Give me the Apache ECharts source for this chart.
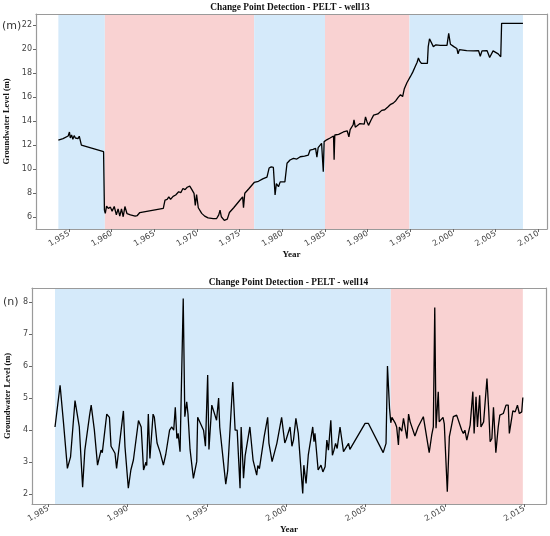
<!DOCTYPE html>
<html>
<head>
<meta charset="utf-8">
<script src="https://cdn.jsdelivr.net/npm/echarts@6/dist/echarts.min.js"></script>
<style>
  html, body { margin: 0; padding: 0; background: #fff; }
  #chart { width: 550px; height: 536px; }
</style>
</head>
<body>
<div id="chart"></div>
<script>
// well13 : niveau de la nappe (m)
const well13Years = [1953.75, 1954.3, 1954.9, 1955.05, 1955.15, 1955.3, 1955.45, 1955.6, 1955.75, 1955.9, 1956.05, 1956.2, 1956.35, 1956.45,
  1959.05, 1959.15, 1959.25, 1959.4, 1959.6, 1959.85, 1960.05, 1960.3, 1960.55, 1960.75, 1960.95, 1961.15, 1961.35, 1961.55, 1961.8,
  1962.2, 1962.4, 1962.75, 1963.0, 1963.3, 1966.05, 1966.25, 1966.5, 1966.7, 1966.9, 1967.2, 1967.5, 1967.65, 1967.85, 1968.1, 1968.35,
  1968.6, 1968.85, 1969.0, 1969.15, 1969.4, 1969.65, 1969.8, 1969.95, 1970.15, 1970.55, 1970.9, 1971.3, 1971.9, 1972.3, 1972.55, 1972.7,
  1972.85, 1973.2, 1973.55, 1973.8, 1974.3, 1975.0, 1975.35, 1975.45, 1975.6, 1976.1, 1976.7, 1977.2, 1977.7, 1978.2, 1978.45, 1978.7,
  1978.95, 1979.15, 1979.3, 1979.55, 1979.75, 1980.3, 1980.55, 1980.9, 1981.3, 1981.7, 1982.1, 1982.6, 1983.05, 1983.25, 1983.6, 1983.9,
  1984.05, 1984.2, 1984.6, 1984.75, 1984.8, 1984.9, 1985.2, 1985.6, 1986.0, 1986.07, 1986.15, 1986.6, 1987.15, 1987.6, 1987.8, 1987.95,
  1988.3, 1988.4, 1988.55, 1989.1, 1989.6, 1989.75, 1989.9, 1990.1, 1990.4, 1990.7, 1991.2, 1991.65, 1992.0, 1992.4, 1992.7, 1993.0,
  1993.3, 1993.6, 1993.85, 1994.0, 1994.1, 1994.3, 1994.6, 1995.0, 1995.3, 1995.55, 1995.8, 1995.95, 1996.1, 1996.3, 1997.0, 1997.1,
  1997.25, 1997.45, 1997.7, 1998.0, 1998.5, 1999.3, 1999.5, 1999.7, 2000.1, 2000.45, 2000.6, 2000.75, 2001.6, 2002.4, 2003.0, 2003.2,
  2003.4, 2004.0, 2004.3, 2004.7, 2005.3, 2005.6, 2005.7, 2008.2];
const well13Levels = [12.43, 12.55, 12.77, 13.1, 12.6, 12.85, 12.5, 12.8, 12.6, 12.75, 12.55, 12.75, 12.65, 12.0,
  11.46, 6.6, 6.33, 6.94, 6.75, 6.85, 6.5, 6.9, 6.2, 6.7, 6.1, 6.7, 6.05, 6.9, 6.3,
  6.2, 6.25, 6.1, 6.15, 6.4, 6.75, 7.44, 7.5, 7.7, 7.5, 7.75, 7.86, 7.8, 8.13, 8.05, 8.4,
  8.3, 8.5, 8.4, 8.6, 8.3, 8.0, 7.0, 7.9, 6.8, 6.33, 6.1, 5.95, 5.9, 5.9, 6.2, 6.6,
  6.05, 5.75, 5.85, 6.4, 6.8, 7.4, 7.7, 6.8, 8.0, 8.4, 8.9, 9.0, 9.2, 9.35, 10.1, 10.2,
  10.15, 7.86, 8.8, 8.55, 8.95, 8.95, 10.5, 10.77, 10.9, 10.85, 11.04, 11.1, 11.18, 11.6, 11.65, 11.74,
  11.0, 11.8, 12.16, 12.2, 9.8, 12.3, 12.45, 12.6, 12.77, 10.8, 12.85, 12.9, 13.1, 13.2, 12.7, 13.3,
  13.7, 14.1, 13.5, 13.8, 13.75, 14.35, 14.0, 13.65, 14.1, 14.5, 14.6, 14.9, 14.95, 15.2, 15.4, 15.5,
  15.7, 16.0, 16.2, 16.3, 16.05, 16.7, 17.2, 17.7, 18.1, 18.5, 18.9, 19.25, 19.0, 18.8, 18.8, 20.2,
  20.85, 20.9, 20.2, 20.35, 20.3, 20.3, 21.3, 20.4, 20.2, 20.05, 19.6, 19.95, 19.86, 19.85, 19.86, 19.4,
  19.85, 19.86, 19.3, 19.85, 19.6, 19.35, 22.14, 22.14];

// well14 : niveau de la nappe (m)
const well14Years = [1985.42, 1985.74, 1985.95, 1986.2, 1986.4, 1986.68, 1986.95, 1987.16, 1987.3, 1987.6, 1987.7, 1987.9, 1988.1, 1988.2,
  1988.32, 1988.4, 1988.68, 1988.85, 1988.95, 1989.2, 1989.3, 1989.73, 1989.83, 1989.9, 1990.04, 1990.2, 1990.36, 1990.68, 1990.85,
  1991.0, 1991.08, 1991.15, 1991.2, 1991.3, 1991.4, 1991.6, 1991.68, 1991.85, 1992.05, 1992.25, 1992.4, 1992.64, 1992.78, 1992.9,
  1993.0, 1993.1, 1993.18, 1993.3, 1993.5, 1993.6, 1993.72, 1993.8, 1993.93, 1994.0, 1994.14, 1994.35, 1994.41, 1994.78, 1994.9,
  1995.04, 1995.12, 1995.3, 1995.6, 1995.73, 1995.8, 1996.18, 1996.3, 1996.38, 1996.62, 1996.77, 1996.9, 1997.08, 1997.15, 1997.3,
  1997.4, 1997.7, 1997.9, 1998.13, 1998.2, 1998.3, 1998.6, 1998.68, 1998.82, 1998.9, 1999.1, 1999.4, 1999.7, 1999.8, 1999.9, 1999.98,
  2000.1, 2000.23, 2000.35, 2000.45, 2000.6, 2000.75, 2001.03, 2001.1, 2001.24, 2001.38, 2001.66, 2001.74, 2001.8, 2002.0, 2002.18,
  2002.3, 2002.44, 2002.55, 2002.65, 2002.8, 2002.9, 2003.0, 2003.1, 2003.2, 2003.38, 2003.6, 2003.92, 2004.0, 2004.96, 2005.17,
  2006.1, 2006.28, 2006.37, 2006.5, 2006.58, 2006.65, 2006.85, 2006.95, 2007.06, 2007.12, 2007.27, 2007.38, 2007.6, 2007.7, 2007.8,
  2008.1, 2008.3, 2008.63, 2009.0, 2009.16, 2009.26, 2009.35, 2009.43, 2009.5, 2009.57, 2009.63, 2009.7, 2009.87, 2009.95, 2010.14,
  2010.27, 2010.52, 2010.73, 2011.05, 2011.15, 2011.25, 2011.37, 2011.58, 2011.68, 2011.75, 2011.83, 2011.95, 2012.04, 2012.18, 2012.26,
  2012.43, 2012.64, 2012.75, 2012.84, 2012.95, 2013.05, 2013.2, 2013.35, 2013.45, 2013.67, 2013.84, 2013.98, 2014.05, 2014.13, 2014.27,
  2014.42, 2014.56, 2014.68, 2014.83, 2014.9];
const well14Levels = [4.1, 5.4, 4.26, 2.81, 3.17, 4.92, 4.1, 2.22, 3.38, 4.47, 4.78, 4.0, 2.91, 2.93,
  3.38, 3.3, 4.5, 4.4, 3.5, 3.28, 2.81, 4.6, 3.48, 3.45, 2.19, 2.76, 3.07, 4.3, 4.1,
  2.76, 2.7, 3.0, 2.9, 4.5, 3.12, 4.5, 4.4, 3.6, 3.3, 2.91, 3.25, 4.0, 4.1, 4.0,
  4.71, 3.74, 3.9, 3.33, 8.1, 4.42, 4.88, 4.5, 3.4, 3.4, 2.5, 3.02, 4.4, 4.0, 3.5,
  5.72, 3.4, 4.78, 4.31, 5.0, 4.1, 2.32, 2.73, 2.7, 5.5, 4.0, 4.0, 2.19, 4.1, 2.5,
  3.2, 4.1, 3.07, 2.6, 2.9, 2.8, 3.8, 3.75, 4.4, 3.6, 3.02, 3.59, 4.4, 4.35, 3.6, 3.7,
  3.65, 4.1, 3.5, 3.7, 4.37, 3.9, 2.03, 2.91, 2.34, 3.22, 4.1, 3.64, 3.9, 2.76, 2.91,
  2.7, 2.86, 3.69, 3.38, 4.31, 3.22, 3.38, 3.59, 3.43, 4.1, 3.33, 3.59, 3.4, 4.21, 4.21,
  3.3, 3.59, 6.0, 4.68, 4.23, 4.4, 4.23, 4.1, 3.54, 4.1, 3.97, 4.37, 3.74, 4.5, 4.26,
  3.82, 4.1, 4.42, 3.3, 3.85, 4.1, 7.82, 4.06, 4.0, 5.2, 4.26, 4.3, 4.4, 4.2, 2.08,
  3.8, 4.42, 4.47, 4.0, 3.9, 4.0, 3.69, 4.16, 4.21, 5.2, 3.9, 5.04, 4.1, 5.09, 4.1,
  4.26, 5.61, 4.62, 3.64, 3.74, 4.71, 3.3, 4.1, 4.47, 4.52, 4.78, 4.78, 3.9, 3.9, 4.6,
  4.57, 4.78, 4.52, 4.57, 5.02];

// points de rupture PELT (début / fin des segments)
const well13Breaks = [1953.75, 1959.2, 1976.7, 1985.0, 1994.9, 2008.2];
const well14Breaks = [1985.42, 2006.58, 2014.9];

// graduations
const well13XTicks = [1955, 1960, 1965, 1970, 1975, 1980, 1985, 1990, 1995, 2000, 2005, 2010];
const well13YTicks = [6, 8, 10, 12, 14, 16, 18, 20, 22];
const well14XTicks = [1985, 1990, 1995, 2000, 2005, 2010, 2015];
const well14YTicks = [2, 3, 4, 5, 6, 7, 8];

const segColors = ['#d5eafa', '#f9d2d2'];
const frameColor = '#9a9a9a';
const serif = 'Liberation Serif';

const chart = echarts.init(document.getElementById('chart'));

function spans(breaks) {
    const out = [];
    for (let i = 0; i < breaks.length - 1; i++) {
        out.push([{ xAxis: breaks[i], itemStyle: { color: segColors[i % 2] } }, { xAxis: breaks[i + 1] }]);
    }
    return out;
}

function mainX(grid, min, max, ticks, gap) {
    return {
        type: 'value', gridIndex: grid, min: min, max: max, z: 5,
        name: 'Year', nameLocation: 'middle', nameGap: gap,
        nameTextStyle: { fontFamily: serif, fontWeight: 'bold', fontSize: 9, color: '#111' },
        axisLine: { show: true, onZero: false, lineStyle: { color: frameColor, width: 1.2 } },
        axisTick: { show: true, customValues: ticks, length: 3, lineStyle: { color: '#666' } },
        axisLabel: { customValues: ticks, rotate: 30, fontFamily: 'DejaVu Sans', fontSize: 8, color: '#444', margin: 4 },
        splitLine: { show: false }
    };
}

function mainY(grid, min, max, ticks, gap) {
    return {
        type: 'value', gridIndex: grid, min: min, max: max, z: 5,
        name: 'Groundwater Level (m)', nameLocation: 'middle', nameGap: gap,
        nameTextStyle: { fontFamily: serif, fontWeight: 'bold', fontSize: 8.5, color: '#111' },
        axisLine: { show: true, onZero: false, lineStyle: { color: frameColor, width: 1.2 } },
        axisTick: { show: true, customValues: ticks, length: 3, lineStyle: { color: '#666' } },
        axisLabel: { customValues: ticks, fontFamily: 'DejaVu Sans', fontSize: 8, color: '#444', margin: 4 },
        splitLine: { show: false }
    };
}

function frameAxis(grid, min, max, pos) {
    return {
        type: 'value', gridIndex: grid, min: min, max: max, position: pos, z: 5,
        axisLine: { show: true, onZero: false, lineStyle: { color: frameColor, width: 1.2 } },
        axisTick: { show: false }, axisLabel: { show: false }, splitLine: { show: false }
    };
}

const options = {
    animation: false,
    grid: [
        { left: 36, top: 14, width: 511, height: 215, outerBoundsMode: 'none', containLabel: false },
        { left: 32, top: 288, width: 514, height: 216, outerBoundsMode: 'none', containLabel: false }
    ],
    xAxis: [
        mainX(0, 1951.13, 2011.02, well13XTicks, 15),
        frameAxis(0, 1951.13, 2011.02, 'top'),
        mainX(1, 1983.97, 2016.36, well14XTicks, 21),
        frameAxis(1, 1983.97, 2016.36, 'top')
    ],
    yAxis: [
        mainY(0, 5.03, 22.915, well13YTicks, 15),
        frameAxis(0, 5.03, 22.915, 'right'),
        mainY(1, 1.70, 8.43, well14YTicks, 11),
        frameAxis(1, 1.70, 8.43, 'right')
    ],
    graphic: [
        { type: 'text', left: 2, top: 21, style: { text: '(m)', font: '11px "DejaVu Sans"', fill: '#333' } },
        { type: 'text', left: 3, top: 297, style: { text: '(n)', font: '11px "DejaVu Sans"', fill: '#333' } },
        { type: 'text', x: 290, y: 8, style: { text: 'Change Point Detection - PELT - well13', font: 'bold 9.4px "Liberation Serif"', fill: '#111', align: 'center', verticalAlign: 'middle' } },
        { type: 'text', x: 288.5, y: 282.5, style: { text: 'Change Point Detection - PELT - well14', font: 'bold 9.4px "Liberation Serif"', fill: '#111', align: 'center', verticalAlign: 'middle' } }
    ],
    series: [
        {
            type: 'line', xAxisIndex: 0, yAxisIndex: 0,
            data: well13Years.map((y, i) => [y, well13Levels[i]]),
            showSymbol: false, lineStyle: { color: '#000', width: 1.3 },
            markArea: { silent: true, data: spans(well13Breaks) }
        },
        {
            type: 'line', xAxisIndex: 2, yAxisIndex: 2,
            data: well14Years.map((y, i) => [y, well14Levels[i]]),
            showSymbol: false, lineStyle: { color: '#000', width: 1.3 },
            markArea: { silent: true, data: spans(well14Breaks) }
        }
    ]
};

chart.setOption(options);
</script>
</body>
</html>
